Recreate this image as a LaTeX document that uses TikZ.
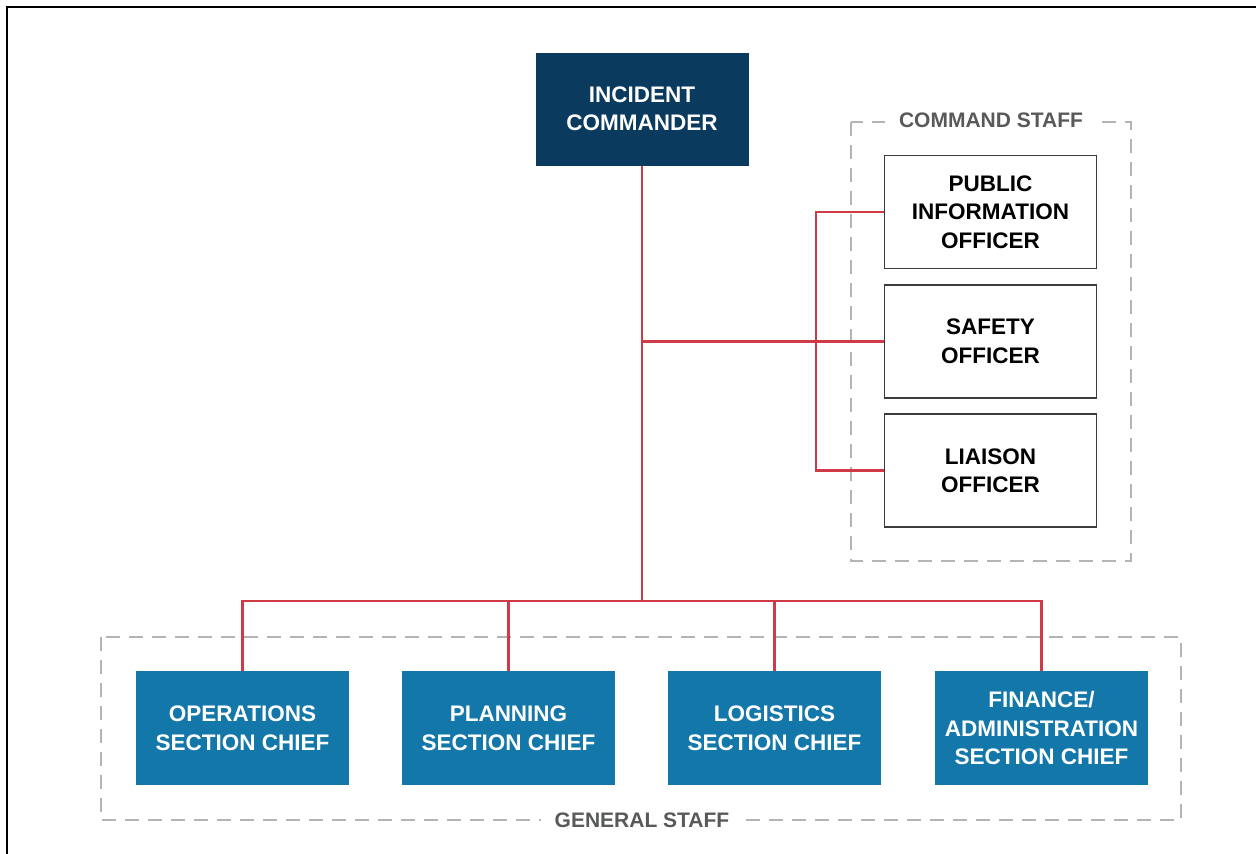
\documentclass[tikz,border=0pt]{standalone}
\usepackage{fontspec}
\setmainfont{Liberation Sans}
\usetikzlibrary{positioning,calc}
\usepackage{xcolor}

\definecolor{icnavy}{HTML}{0B3A5F}
\definecolor{secblue}{HTML}{1477A9}
\definecolor{linkred}{HTML}{CF3A46}
\definecolor{dashgray}{HTML}{B4B4B4}
\definecolor{labelgray}{HTML}{58595B}
\definecolor{boxgray}{HTML}{3C3C3C}

\begin{document}
\begin{tikzpicture}[
  x=1pt, y=-1pt,
  boxtext/.style={align=center, inner sep=0pt, font=\fontsize{22.5}{28.5}\selectfont\bfseries},
  cmdbox/.style={boxtext, fill=icnavy, text=white, minimum width=213pt, minimum height=113pt},
  officerbox/.style={boxtext, draw=boxgray, line width=1.5pt, fill=white, text=black,
    minimum width=212pt, minimum height=113pt},
  sectionbox/.style={boxtext, fill=secblue, text=white, minimum width=213pt, minimum height=114pt},
  staffframe/.style={draw=dashgray, line width=1.8pt, dash pattern=on 14pt off 9pt},
  stafflabel/.style={fill=white, text=labelgray, inner xsep=14pt, inner ysep=2pt,
    font=\fontsize{21}{24}\selectfont\bfseries},
  link/.style={draw=linkred, line width=2.4pt}
]
  \useasboundingbox (0,0) rectangle (1256,854);
  \draw[line width=2pt] (1262,7) -- (7,7) -- (7,862);

  % staff frames
  \draw[staffframe] (851,122) rectangle (1131,561);
  \draw[staffframe] (101,637) rectangle (1181,820);
  \node[stafflabel] (cmdlabel) at (991,120) {COMMAND STAFF};
  \node[stafflabel] (genlabel) at (642,820) {GENERAL STAFF};

  \node[cmdbox] (ic) at (642,109) {INCIDENT\\COMMANDER};

  \node[officerbox] (pio) at (990.5,212) {PUBLIC\\INFORMATION\\OFFICER};
  \node[officerbox] (safety) at (990.5,341.5) {SAFETY\\OFFICER};
  \node[officerbox] (liaison) at (990.5,470.5) {LIAISON\\OFFICER};

  \node[sectionbox] (ops) at (242.5,728) {OPERATIONS\\SECTION CHIEF};
  \node[sectionbox] (plan) at (508.5,728) {PLANNING\\SECTION CHIEF};
  \node[sectionbox] (logi) at (774.5,728) {LOGISTICS\\SECTION CHIEF};
  \node[sectionbox] (fin) at (1041.5,728) {FINANCE/\\ADMINISTRATION\\SECTION CHIEF};

  \coordinate (bus) at (642,601);
  \coordinate (spine) at (816,341.5);

  \draw[link] (ic.south) -- (bus);
  \draw[link] (safety.west) -- (ic.south |- safety.west);
  \draw[link] (pio.west) -| (spine);
  \draw[link] (liaison.west) -| (spine);
  \foreach \sec in {ops,plan,logi,fin}
    \draw[link] (\sec.north) |- (bus);
\end{tikzpicture}
\end{document}
